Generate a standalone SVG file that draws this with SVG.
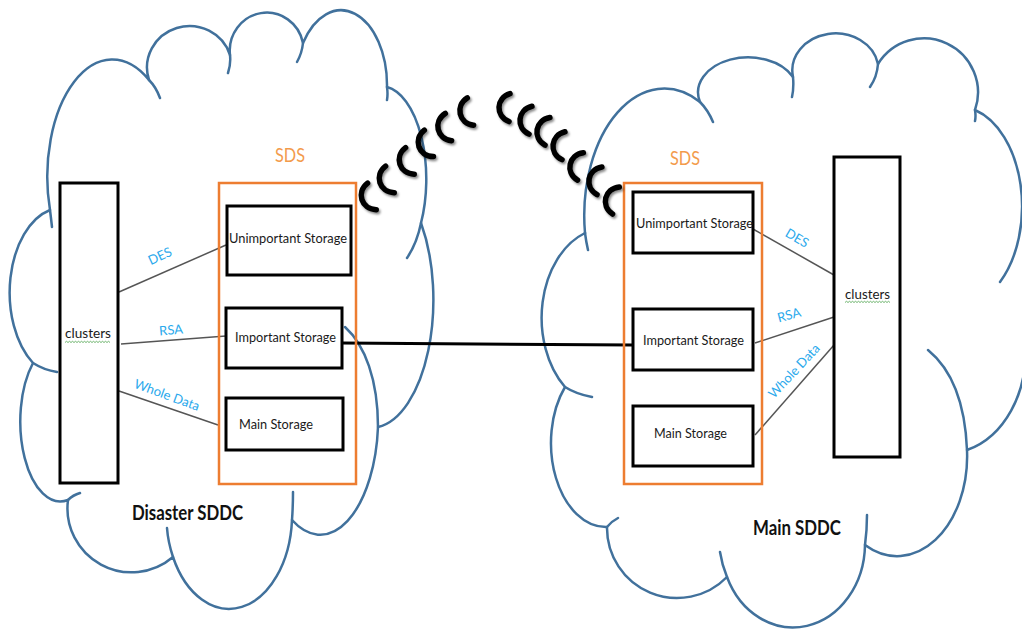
<svg xmlns="http://www.w3.org/2000/svg" xmlns:xlink="http://www.w3.org/1999/xlink" width="1022" height="634" viewBox="0 0 1022 634">
  <style>
    .cloud { fill: none; stroke: #41719C; stroke-width: 2.5; stroke-linecap: round; stroke-linejoin: round; }
    .box { fill: #ffffff; stroke: #000000; stroke-width: 3; }
    .sds { fill: none; stroke: #ED7D31; stroke-width: 2.5; }
    .wire { stroke: #555555; stroke-width: 1.5; fill: none; }
    .link { stroke: #000000; stroke-width: 3; fill: none; }
    .lbl { font-family: Lato, "Open Sans", "Liberation Sans", sans-serif; font-size: 14px; fill: #1a1a1a; }
    .enc { font-family: Lato, "Open Sans", "Liberation Sans", sans-serif; font-size: 13px; fill: #2AA9EC; text-anchor: middle; }
    .sdsl { font-family: Lato, "Open Sans", "Liberation Sans", sans-serif; font-size: 20px; fill: #F39B4C; }
    .title { font-family: Lato, "Open Sans", "Liberation Sans", sans-serif; font-size: 21px; font-weight: bold; fill: #111111; }
    .squiggle { fill: none; stroke: #5BAA5B; stroke-width: 0.9; }
    .crescent { fill: none; stroke: #000000; stroke-width: 5.5; stroke-linecap: round; }
  </style>
  <defs>
    <filter id="soft-shadow" x="-50%" y="-30%" width="200%" height="160%">
      <feDropShadow dx="1.5" dy="2" stdDeviation="1.3" flood-color="#000000" flood-opacity="0.45"/>
    </filter>
    <!-- one radio wave stroke, ends on the local y axis, bulging left -->
    <path id="wave" class="crescent" d="M2,-14 C-12,-9 -12,9 2,14"/>
  </defs>

  <rect width="1022" height="634" fill="#ffffff"/>

  <!-- Disaster SDDC cloud -->
  <g id="disaster-cloud" class="cloud">
    <path d="M50,210 A65,117 0 0 1 149,80 A41,40 0 0 1 230,55 A37,38 0 0 1 303,43 A46,75 0 0 1 387,87 A45,93 0 0 1 421,223 A62,128 0 0 1 378,427 A58,117 0 0 1 292,520 A63,95 0 0 1 173,557 A64,64 0 0 1 68,500 A40,80 0 0 1 33,363 A53,85 0 0 1 50,210 Z"/>
    <path d="M52,227 Q51,218 50,210 M149,80 Q156,87 160,98 M230,55 Q231,64 228,73 M303,43 Q302,53 297,62 M387,87 Q388,94 387,100 M421,223 Q417,243 407,258 M345,327 C365,345 378,380 378,427 M293,492 Q293,506 292,520 M173,557 Q168,542 167,528 M68,500 Q73,495 80,493 M57,372 Q44,370 33,363"/>
  </g>

  <!-- Main SDDC cloud -->
  <g id="main-cloud" class="cloud">
    <path d="M585,233 A80,127 0 0 1 700,102 A50,35 0 0 1 793,77 A43,37 0 0 1 878,64 A54,54 0 0 1 975,110 A64,100 0 0 1 1000,282"/>
    <path d="M1025,345 A80,100 0 0 1 967,450 A70,100 0 0 1 865,545 A72,84 0 0 1 727,577 A70,70 0 0 1 607,527 A55,84 0 0 1 565,387 A65,90 0 0 1 585,233"/>
    <path d="M588,250 Q586,241 585,233 M700,102 Q708,110 713,122 M793,77 Q794,88 792,97 M878,64 Q877,77 870,87 M975,110 Q976,116 975,121 M928,350 C950,368 965,400 967,450 M867,515 Q867,530 865,545 M727,577 Q722,565 720,552 M607,527 Q612,521 618,518 M592,397 Q576,394 565,387"/>
  </g>

  <!-- Links between clusters and storage tiers, and the replication link -->
  <g id="connectors">
    <line class="wire" x1="119" y1="292" x2="226" y2="245"/>
    <line class="wire" x1="121" y1="344" x2="226" y2="336"/>
    <line class="wire" x1="119" y1="391" x2="218" y2="425"/>
    <line class="wire" x1="753" y1="229" x2="834" y2="275"/>
    <line class="wire" x1="755" y1="343" x2="834" y2="317"/>
    <line class="wire" x1="755" y1="435" x2="834" y2="345"/>
    <line class="link" x1="342" y1="343" x2="633" y2="345"/>
    <text class="enc" x="160" y="260.5" transform="rotate(-25 160 256)">DES</text>
    <text class="enc" x="171" y="334.5" transform="rotate(-5 171 330)">RSA</text>
    <text class="enc" x="167" y="399.5" transform="rotate(20 167 395)">Whole Data</text>
    <text class="enc" x="797" y="242.5" transform="rotate(30 797 238)">DES</text>
    <text class="enc" x="789" y="319.5" transform="rotate(-15 789 315)">RSA</text>
    <text class="enc" x="794" y="375.5" transform="rotate(-47 794 371)">Whole Data</text>
  </g>

  <!-- Disaster site -->
  <g id="disaster-clusters">
    <rect class="box" x="60" y="183" width="58" height="300"/>
    <text class="lbl" x="65" y="338" textLength="46" lengthAdjust="spacingAndGlyphs">clusters</text>
    <path class="squiggle" d="M65,342.5 l1.5,-1.2 l1.5,1.2 l1.5,-1.2 l1.5,1.2 l1.5,-1.2 l1.5,1.2 l1.5,-1.2 l1.5,1.2 l1.5,-1.2 l1.5,1.2 l1.5,-1.2 l1.5,1.2 l1.5,-1.2 l1.5,1.2 l1.5,-1.2 l1.5,1.2 l1.5,-1.2 l1.5,1.2 l1.5,-1.2 l1.5,1.2 l1.5,-1.2 l1.5,1.2 l1.5,-1.2 l1.5,1.2 l1.5,-1.2 l1.5,1.2 l1.5,-1.2 l1.5,1.2 l1.5,-1.2 l1.5,1.2"/>
  </g>
  <g id="disaster-sds">
    <rect class="sds" x="219" y="183" width="137" height="301"/>
    <text class="sdsl" x="275" y="162" textLength="30" lengthAdjust="spacingAndGlyphs">SDS</text>
  </g>
  <g id="disaster-unimportant-storage">
    <rect class="box" x="227" y="206" width="124" height="69"/>
    <text class="lbl" x="229" y="243" textLength="118" lengthAdjust="spacingAndGlyphs">Unimportant Storage</text>
  </g>
  <g id="disaster-important-storage">
    <rect class="box" x="226" y="308" width="116" height="60"/>
    <text class="lbl" x="235" y="342" textLength="101" lengthAdjust="spacingAndGlyphs">Important Storage</text>
  </g>
  <g id="disaster-main-storage">
    <rect class="box" x="226" y="398" width="117" height="52"/>
    <text class="lbl" x="239" y="429" textLength="74" lengthAdjust="spacingAndGlyphs">Main Storage</text>
  </g>
  <g id="disaster-title">
    <text class="title" x="132" y="520" textLength="111" lengthAdjust="spacingAndGlyphs">Disaster SDDC</text>
  </g>

  <!-- Main site -->
  <g id="main-sds">
    <rect class="sds" x="624" y="183" width="138" height="301"/>
    <text class="sdsl" x="670" y="165" textLength="30" lengthAdjust="spacingAndGlyphs">SDS</text>
  </g>
  <g id="main-unimportant-storage">
    <rect class="box" x="633" y="192" width="120" height="61"/>
    <text class="lbl" x="636" y="228" textLength="117" lengthAdjust="spacingAndGlyphs">Unimportant Storage</text>
  </g>
  <g id="main-important-storage">
    <rect class="box" x="633" y="309" width="120" height="61"/>
    <text class="lbl" x="643" y="345" textLength="101" lengthAdjust="spacingAndGlyphs">Important Storage</text>
  </g>
  <g id="main-main-storage">
    <rect class="box" x="633" y="406" width="120" height="60"/>
    <text class="lbl" x="654" y="438" textLength="73" lengthAdjust="spacingAndGlyphs">Main Storage</text>
  </g>
  <g id="main-clusters">
    <rect class="box" x="834" y="157" width="66" height="300"/>
    <text class="lbl" x="845" y="299" textLength="45" lengthAdjust="spacingAndGlyphs">clusters</text>
    <path class="squiggle" d="M845,302.5 l1.5,-1.2 l1.5,1.2 l1.5,-1.2 l1.5,1.2 l1.5,-1.2 l1.5,1.2 l1.5,-1.2 l1.5,1.2 l1.5,-1.2 l1.5,1.2 l1.5,-1.2 l1.5,1.2 l1.5,-1.2 l1.5,1.2 l1.5,-1.2 l1.5,1.2 l1.5,-1.2 l1.5,1.2 l1.5,-1.2 l1.5,1.2 l1.5,-1.2 l1.5,1.2 l1.5,-1.2 l1.5,1.2 l1.5,-1.2 l1.5,1.2 l1.5,-1.2 l1.5,1.2 l1.5,-1.2 l1.5,1.2"/>
  </g>
  <g id="main-title">
    <text class="title" x="753" y="535" textLength="88" lengthAdjust="spacingAndGlyphs">Main SDDC</text>
  </g>

  <!-- Wireless link between the two sites -->
  <g id="wireless-link" filter="url(#soft-shadow)">
    <use href="#wave" xlink:href="#wave" transform="translate(370,197) rotate(-18)"/>
    <use href="#wave" xlink:href="#wave" transform="translate(388,180) rotate(-18)"/>
    <use href="#wave" xlink:href="#wave" transform="translate(408,161.5) rotate(-18)"/>
    <use href="#wave" xlink:href="#wave" transform="translate(427,144) rotate(-19)"/>
    <use href="#wave" xlink:href="#wave" transform="translate(446.5,127.5) rotate(-13)"/>
    <use href="#wave" xlink:href="#wave" transform="translate(468.5,112) rotate(-13)"/>
    <use href="#wave" xlink:href="#wave" transform="translate(507.5,107.5) rotate(2)"/>
    <use href="#wave" xlink:href="#wave" transform="translate(528.5,120) rotate(6)"/>
    <use href="#wave" xlink:href="#wave" transform="translate(545.5,131) rotate(10)"/>
    <use href="#wave" xlink:href="#wave" transform="translate(561.5,145.5) rotate(6)"/>
    <use href="#wave" xlink:href="#wave" transform="translate(578.5,166) rotate(12)"/>
    <use href="#wave" xlink:href="#wave" transform="translate(597.5,180.5) rotate(10)"/>
    <use href="#wave" xlink:href="#wave" transform="translate(614,200) rotate(14)"/>
  </g>
</svg>
